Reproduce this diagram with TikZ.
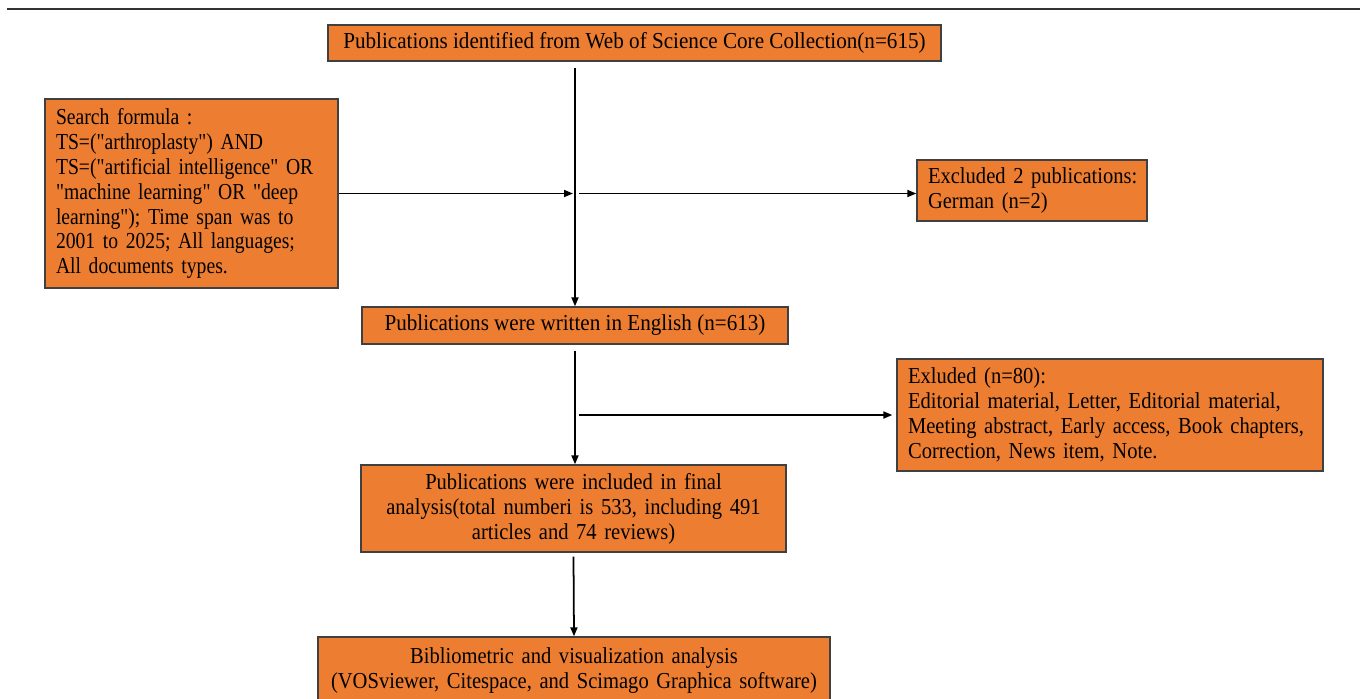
\documentclass[tikz,border=0pt]{standalone}
\usepackage{fontspec}
\setmainfont{Liberation Serif}[FakeStretch=0.9,Ligatures=TeXOff]
\newfontfamily\fA{Liberation Serif}[FakeStretch=0.86,Ligatures=TeXOff]
\newfontfamily\fB{Liberation Serif}[FakeStretch=0.9,Ligatures=TeXOff]
\newfontfamily\fC{Liberation Serif}[FakeStretch=0.925,Ligatures=TeXOff]
\usetikzlibrary{arrows.meta}
\definecolor{boxfill}{HTML}{ED7D31}
\definecolor{boxline}{HTML}{404040}
\definecolor{rulecol}{HTML}{333333}
\begin{document}
\begin{tikzpicture}[x=0.02cm,y=-0.02cm,
  box/.style={draw=boxline, fill=boxfill, line width=0.8pt, inner sep=0pt,
    font=\fontsize{13}{14.2}\selectfont},
  arr/.style={-{Triangle[length=0.18cm,width=0.14cm]}, line width=1pt}]
\clip (0,0) rectangle (1360,698);
\useasboundingbox (0,0) rectangle (1360,698);
\coordinate (ruleL) at (7,9);
\coordinate (ruleR) at (1360,9);
\draw[rulecol, line width=1.2pt] (ruleL) -- (ruleR);

\node[box, minimum width=12.26cm, minimum height=0.72cm] (top) at (634.5,43)
  {\fC Publications identified from Web of Science Core Collection(n=615)};
\node[box, minimum width=5.86cm, minimum height=3.78cm, text width=5.42cm, inner xsep=0.22cm, align=left] (search) at (191.5,193.5)
  {\fA Search formula :\\TS=("arthroplasty") AND\\TS=("artificial intelligence" OR\\"machine learning" OR "deep\\learning"); Time span was to\\2001 to 2025; All languages;\\All documents types.};
\node[box, minimum width=4.6cm, minimum height=1.22cm, text width=4.4cm, inner xsep=0.1cm, align=left] (excl2) at (1032,190.5)
  {\fB\hspace*{0.12cm}Excluded 2 publications:\\\hspace*{0.12cm}German (n=2)};
\node[box, minimum width=8.52cm, minimum height=0.74cm] (eng) at (575,325.5)
  {\fC Publications were written in English (n=613)};
\node[box, minimum width=8.52cm, minimum height=2.24cm, text width=8.08cm, inner xsep=0.22cm, align=left] (excl80) at (1110,415)
  {\fB Exluded (n=80):\\Editorial material, Letter, Editorial material,\\Meeting abstract, Early access, Book chapters,\\Correction, News item, Note.};
\node[box, minimum width=8.5cm, minimum height=1.74cm, text width=8.3cm, align=center] (final) at (573.5,508.5)
  {\fB Publications were included in final\\analysis(total numberi is 533, including 491\\articles and 74 reviews)};
\node[box, minimum width=10.24cm, minimum height=1.36cm, text width=10.1cm, align=center] (bib) at (574,671)
  {\fB Bibliometric and visualization analysis\\(VOSviewer, Citespace, and Scimago Graphica software)};

\coordinate (j1) at (eng.north |- search.east);
\coordinate (j2) at (eng.south |- excl80.west);
\draw[arr] ([yshift=-0.12cm]top.south -| eng.north) -- (eng.north);
\draw[arr] (search.east) -- ([xshift=-0.04cm]j1);
\draw[arr] ([xshift=0.08cm]j1) -- (excl2.west |- j1);
\draw[arr] ([yshift=-0.12cm]eng.south) -- (final.north -| eng.south);
\draw[arr] ([xshift=0.08cm]j2) -- ([xshift=-0.08cm]excl80.west);
\draw[arr] ([yshift=-0.08cm]final.south) -- (bib.north);
\end{tikzpicture}
\end{document}
